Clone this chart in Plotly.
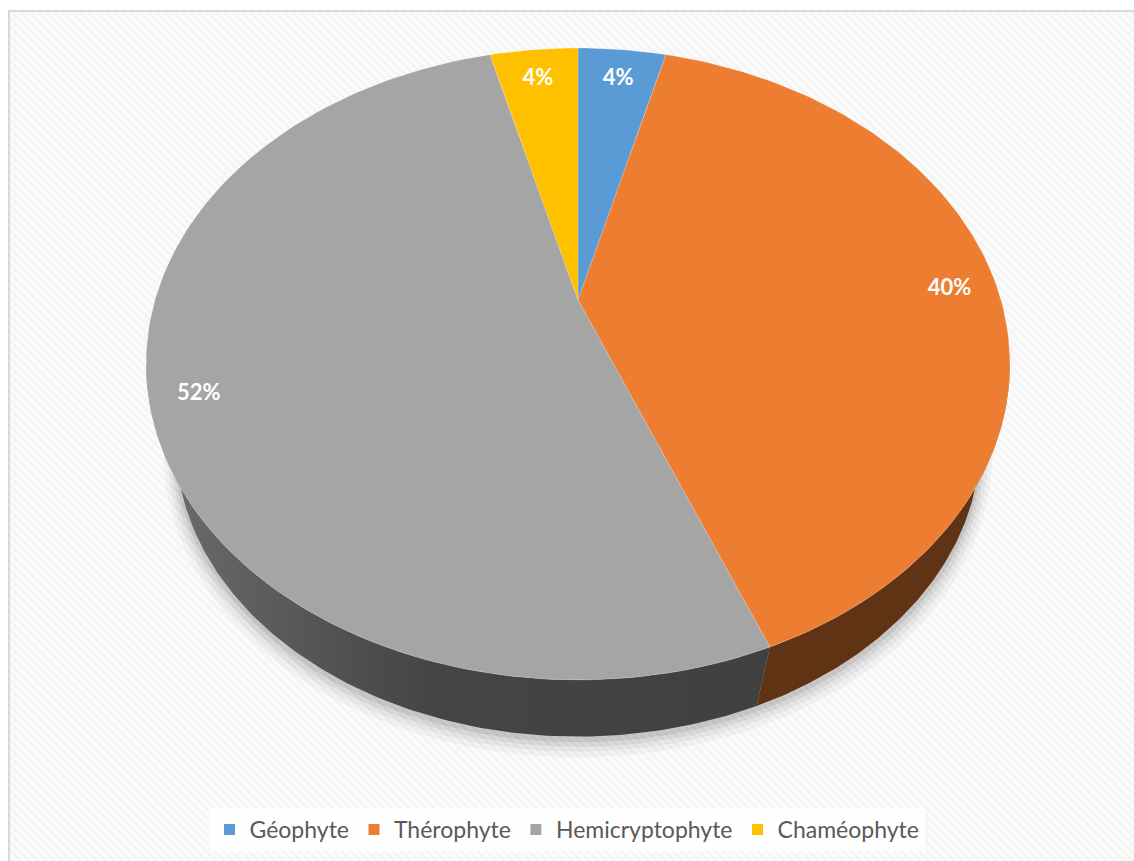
import numpy as np
import plotly.graph_objects as go

# ---- data ----
categories = ["Géophyte", "Thérophyte", "Hemicryptophyte", "Chaméophyte"]
values = [4, 40, 52, 4]
top_colors = ["#5B9BD5", "#ED7D31", "#A5A5A5", "#FFC000"]
side_colors = ["#335a80", "#603314", "#444444", "#8a6a00"]

# ---- projection (layout constants, pixel space) ----
W, H = 1134, 861
CX, CY = 578.0, 300.0
A, B, K = 423.0, 303.0, 0.2025
VPX, VPY, LAM = 578.0, 1500.0, 0.069
LABEL_R, LABEL_DY = 0.89, 6.0


def top_pt(phi, r=1.0):
    X = r * np.sin(phi)
    Z = -r * np.cos(phi)
    d = 1 - K * Z
    return CX + A * X / d, CY + B * Z / d


def bot_pt(phi, r=1.0):
    x, y = top_pt(phi, r)
    return x + LAM * (VPX - x), y + LAM * (VPY - y)


total = float(sum(values))
fracs = [v / total for v in values]
starts = np.concatenate([[0.0], np.cumsum(fracs)[:-1]]) * 2 * np.pi
ends = np.cumsum(fracs) * 2 * np.pi

fig = go.Figure()

# chart-area background with diagonal hatch
fig.add_trace(go.Scatter(
    x=[9, W + 5, W + 5, 9, 9], y=[11, 11, H + 5, H + 5, 11],
    mode="lines", fill="toself", line=dict(width=0),
    fillcolor="#fbfbfb",
    fillpattern=dict(shape="\\", fgcolor="#ededed", bgcolor="#fbfbfb", size=6, solidity=0.45),
    hoverinfo="skip", showlegend=False))

# soft shadow under the pie
ph_all = np.linspace(0, 2 * np.pi, 240)
for grow, dy, op in [(1.030, 10, 0.035), (1.020, 8, 0.045), (1.012, 6, 0.06), (1.005, 4, 0.08)]:
    xs, ys = bot_pt(ph_all)
    mx, my = CX, CY + 80
    xs = mx + (xs - mx) * grow
    ys = my + (ys - my) * grow + dy
    fig.add_trace(go.Scatter(x=xs, y=ys, mode="lines", fill="toself",
                             line=dict(width=0), fillcolor=f"rgba(0,0,0,{op})",
                             hoverinfo="skip", showlegend=False))

# side walls (front half only)
phi_r = np.arccos(-K)
phi_l = 2 * np.pi - phi_r
for i in range(len(values)):
    a0 = max(starts[i], phi_r)
    a1 = min(ends[i], phi_l)
    if a1 <= a0:
        continue
    ph = np.linspace(a0, a1, 120)
    tx, ty = top_pt(ph)
    bx, by = bot_pt(ph)
    xs = np.concatenate([tx, bx[::-1], tx[:1]])
    ys = np.concatenate([ty, by[::-1], ty[:1]])
    kw = {}
    if categories[i] == "Hemicryptophyte":
        kw["fillgradient"] = dict(type="horizontal",
                                  colorscale=[[0, "#6e6e6e"], [0.45, "#454545"], [1, "#404040"]])
    fig.add_trace(go.Scatter(x=xs, y=ys, mode="lines", fill="toself",
                             line=dict(width=0), fillcolor=side_colors[i],
                             hoverinfo="skip", showlegend=False, **kw))

# top faces
for i in range(len(values)):
    ph = np.linspace(starts[i], ends[i], max(8, int(300 * fracs[i])))
    tx, ty = top_pt(ph)
    xs = np.concatenate([[CX], tx, [CX]])
    ys = np.concatenate([[CY], ty, [CY]])
    fig.add_trace(go.Scatter(x=xs, y=ys, mode="lines", fill="toself",
                             line=dict(width=0.6, color="rgba(255,255,255,0.35)"),
                             fillcolor=top_colors[i],
                             hovertext=f"{categories[i]}: {values[i]}%", hoverinfo="text",
                             showlegend=False))

# percentage labels
mids = (starts + ends) / 2
lx, ly = top_pt(mids, LABEL_R)
fig.add_trace(go.Scatter(x=lx, y=ly + LABEL_DY, mode="text",
                         text=[f"{v:.0f}%" for v in values],
                         textfont=dict(family="Lato", size=22, color="white", weight="bold"),
                         hoverinfo="skip", showlegend=False))

# legend entries
for c, col in zip(categories, top_colors):
    fig.add_trace(go.Scatter(x=[None], y=[None], mode="markers", name=c,
                             marker=dict(symbol="square", size=11, color=col)))

fig.update_layout(
    width=W, height=H,
    margin=dict(l=0, r=0, t=0, b=0),
    paper_bgcolor="white", plot_bgcolor="white",
    xaxis=dict(range=[0, W], visible=False, fixedrange=True),
    yaxis=dict(range=[H, 0], visible=False, fixedrange=True),
    showlegend=True,
    legend=dict(orientation="h", x=0.5, xanchor="center", y=1 - 851 / H, yanchor="bottom",
                bgcolor="rgba(255,255,255,0.85)", font=dict(family="Lato", size=23, color="#595959"),
                itemwidth=30, tracegroupgap=0),
    shapes=[dict(type="rect", xref="x", yref="y", x0=9, y0=11, x1=W + 5, y1=H + 5,
                 line=dict(color="#d9d9d9", width=2), layer="above")],
)

fig.write_html("out.html")
